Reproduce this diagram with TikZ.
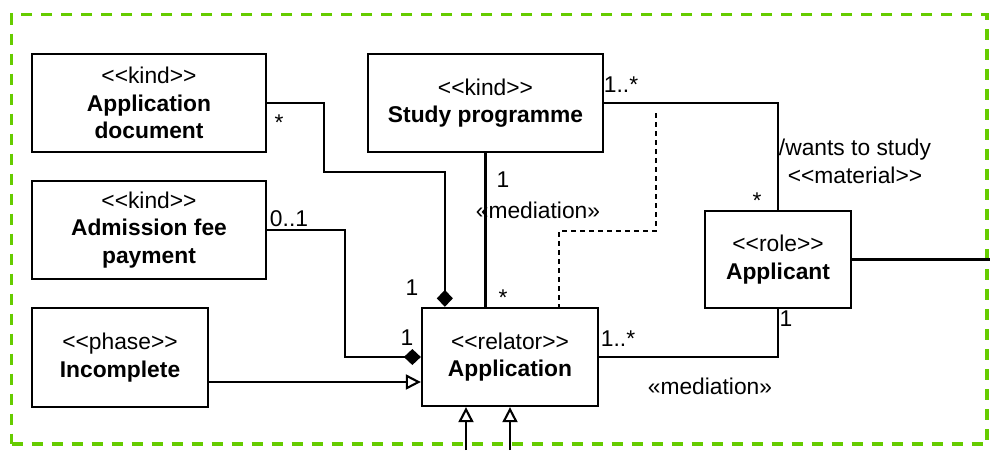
\documentclass[tikz,border=0pt]{standalone}
\usepackage{fontspec}
\setmainfont{Liberation Sans}
\usetikzlibrary{arrows.meta,calc}
% stereotype brackets, kept apart so they are not turned into guillemets
\newcommand{\sopen}{<\kern0pt<}
\newcommand{\sclose}{>\kern0pt>}
\definecolor{framegreen}{HTML}{66CC00}
\begin{document}
\begin{tikzpicture}[x=1pt,y=-1pt,
  umlfont/.style={font=\fontsize{22.8}{27.6}\selectfont},
  lbl/.style={umlfont, inner sep=0pt},
  cls/.style={umlfont, draw, line width=2.3pt, fill=white, align=center, inner sep=0pt},
  conn/.style={line width=2.1pt},
  comp/.style={conn, -{Diamond[length=17pt 0,width=16pt 0]}},
  gen/.style={conn, -{Triangle[open,fill=white,length=15pt 0,width=15pt 0]}},
  deriv/.style={line width=2pt, dash pattern=on 5pt off 4pt},
  frame/.style={draw=framegreen, line width=3.4pt, dash pattern=on 11pt off 9pt}
]
\useasboundingbox (0,0) rectangle (990,450);

% package frame
\node[frame, minimum width=975.5pt, minimum height=429.7pt, inner sep=0pt] (pkg) at (499.25,229.15) {};

% classes
\node[cls, minimum width=234pt, minimum height=98pt] (appdoc) at (149,103)
  {\sopen kind\sclose\\\textbf{Application}\\\textbf{document}};
\node[cls, minimum width=234pt, minimum height=98pt] (fee) at (149,230)
  {\sopen kind\sclose\\\textbf{Admission fee}\\\textbf{payment}};
\node[cls, minimum width=176pt, minimum height=99pt] (incomplete) at (120,357.5)
  {\sopen phase\sclose\\\textbf{Incomplete}};
\node[cls, minimum width=235pt, minimum height=98pt] (study) at (485.5,103)
  {\sopen kind\sclose\\\textbf{Study programme}};
\node[cls, minimum width=176pt, minimum height=98pt] (application) at (510,357)
  {\sopen relator\sclose\\\textbf{Application}};
\node[cls, minimum width=146pt, minimum height=97pt] (applicant) at (778,259.5)
  {\sopen role\sclose\\\textbf{Applicant}};

% bend points and free ends
\coordinate (b1) at (324,172);
\coordinate (b2) at (345,357);
\coordinate (ginc) at ($(incomplete.east)+(0,24.5)$);
\coordinate (d1) at (655.5,113);
\coordinate (d2) at (558.5,231);
\coordinate (exitR) at (990,259.5);
\coordinate (g1) at (466,450);
\coordinate (g2) at (510,450);

% connectors
\draw[comp] (appdoc.east) -| (b1) -| ($(application.north west)+(24,0)$);
\draw[comp] (fee.east) -| (b2) -- (application.west);
\draw[gen] (ginc) -- (ginc -| application.west);
\draw[conn] (study.south) -- (study.south |- application.north);
\draw[conn] (study.east) -| (applicant.north);
\draw[deriv] (d1) |- (d2) -- (d2 |- application.north);
\draw[conn] (application.east) -| (applicant.south);
\draw[conn] (applicant.east) -- (exitR);
\draw[gen] (g1) -- (g1 |- application.south);
\draw[gen] (g2) -- (g2 |- application.south);

% multiplicities and association labels
\node[lbl] (m1) at (279,122.5) {*};
\node[lbl] (m2) at (289,219) {0..1};
\node[lbl] (m3) at (412,288) {1};
\node[lbl] (m4) at (407,338) {1};
\node[lbl] (m5) at (503,298) {*};
\node[lbl] (m6) at (503,180) {1};
\node[lbl] (med1) at (538,210) {«mediation»};
\node[lbl] (m7) at (621,85) {1..*};
\node[lbl] (m8) at (757,201) {*};
\node[lbl, align=center] (assoc) at (855,161.5) {/wants to study\\\sopen material\sclose};
\node[lbl] (m9) at (618,339) {1..*};
\node[lbl] (m10) at (786,319) {1};
\node[lbl] (med2) at (710,386) {«mediation»};
\end{tikzpicture}
\end{document}
